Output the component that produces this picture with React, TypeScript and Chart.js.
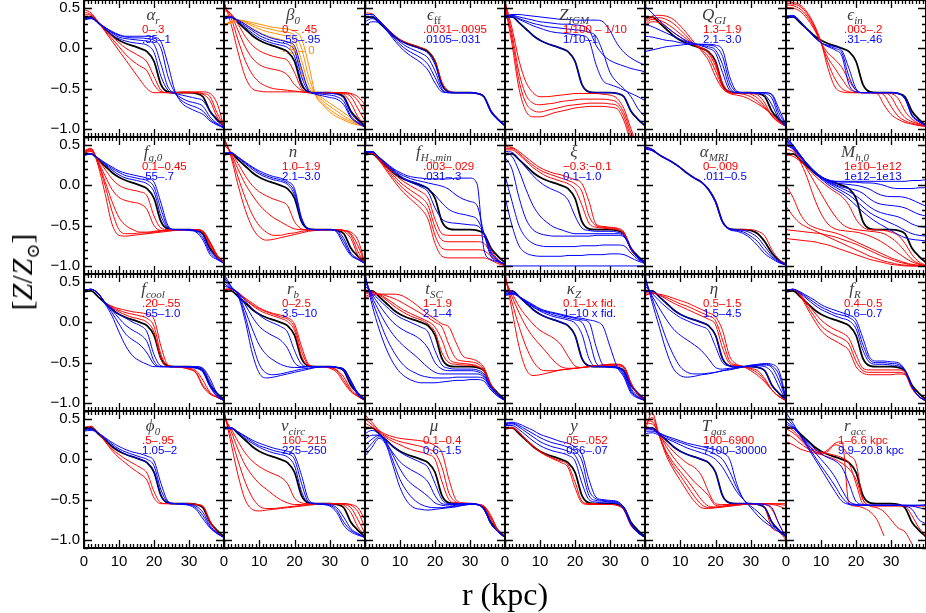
import React, { useEffect, useRef } from "react";
import { Chart, registerables } from "chart.js";
Chart.register(...registerables);

// ---------- shared x grid (kpc) ----------
const R_KPC = [0, 2, 4, 6, 8, 10, 12, 14, 16, 18, 20, 22, 24, 26, 28, 30, 32, 34, 36, 38, 40];
const X_TICKS = [0, 10, 20, 30];
const Y_TICKS = [-1, -0.5, 0, 0.5];
const Y_MIN = -1.1;
const Y_MAX = 0.6;

// fiducial model
const FID = [0.38,0.39,0.32,0.24,0.16,0.10,0.06,0.03,0.00,-0.04,-0.16,-0.45,-0.54,-0.55,-0.55,-0.55,-0.56,-0.60,-0.78,-0.88,-0.96];

// ---------- panel 1: alpha_r ----------
const AR_RED = [
  [0.48,0.44,0.33,0.21,0.09,-0.03,-0.15,-0.27,-0.39,-0.50,-0.55,-0.55,-0.55,-0.55,-0.54,-0.54,-0.54,-0.54,-0.56,-0.68,-0.98],
  [0.45,0.42,0.33,0.22,0.12,0.02,-0.08,-0.16,-0.22,-0.28,-0.45,-0.54,-0.55,-0.55,-0.55,-0.55,-0.55,-0.56,-0.60,-0.80,-0.97],
  [0.42,0.41,0.33,0.24,0.15,0.07,0.00,-0.05,-0.10,-0.17,-0.35,-0.52,-0.55,-0.55,-0.55,-0.55,-0.55,-0.57,-0.65,-0.85,-0.97],
];
const AR_BLUE = [
  [0.37,0.38,0.32,0.24,0.17,0.12,0.09,0.07,0.06,0.04,-0.05,-0.35,-0.52,-0.56,-0.58,-0.60,-0.62,-0.65,-0.78,-0.90,-0.97],
  [0.36,0.38,0.32,0.25,0.19,0.14,0.12,0.11,0.10,0.09,0.05,-0.20,-0.48,-0.56,-0.62,-0.66,-0.68,-0.72,-0.85,-0.93,-0.98],
  [0.36,0.37,0.32,0.26,0.20,0.16,0.14,0.13,0.13,0.12,0.10,0.00,-0.35,-0.55,-0.65,-0.70,-0.73,-0.78,-0.88,-0.94,-0.98],
  [0.35,0.37,0.32,0.26,0.21,0.17,0.15,0.15,0.15,0.15,0.14,0.08,-0.20,-0.53,-0.68,-0.74,-0.78,-0.82,-0.90,-0.95,-0.99],
];

// ---------- panel 2: beta_0 ----------
const B0_RED = [
  [0.58,0.30,-0.05,-0.35,-0.50,-0.53,-0.54,-0.54,-0.54,-0.54,-0.54,-0.54,-0.55,-0.55,-0.55,-0.55,-0.55,-0.55,-0.56,-0.60,-0.70],
  [0.55,0.38,0.10,-0.15,-0.32,-0.42,-0.47,-0.50,-0.51,-0.52,-0.53,-0.54,-0.55,-0.55,-0.55,-0.55,-0.55,-0.55,-0.57,-0.65,-0.80],
  [0.50,0.42,0.22,0.02,-0.12,-0.20,-0.24,-0.26,-0.28,-0.33,-0.45,-0.52,-0.55,-0.55,-0.55,-0.55,-0.55,-0.56,-0.60,-0.75,-0.90],
  [0.47,0.43,0.30,0.15,0.04,-0.03,-0.07,-0.10,-0.12,-0.15,-0.30,-0.50,-0.55,-0.55,-0.55,-0.55,-0.55,-0.57,-0.68,-0.85,-0.95],
];
const B0_BLUE = [
  [0.38,0.39,0.33,0.26,0.19,0.13,0.09,0.06,0.04,0.01,-0.10,-0.42,-0.54,-0.55,-0.55,-0.56,-0.57,-0.62,-0.80,-0.90,-0.97],
  [0.37,0.39,0.34,0.28,0.22,0.16,0.12,0.09,0.07,0.05,-0.03,-0.35,-0.53,-0.56,-0.57,-0.58,-0.60,-0.66,-0.84,-0.92,-0.97],
  [0.36,0.38,0.35,0.30,0.24,0.19,0.15,0.12,0.10,0.08,0.03,-0.25,-0.52,-0.57,-0.59,-0.61,-0.63,-0.70,-0.86,-0.93,-0.98],
];
const B0_ORANGE = [
  [0.30,0.33,0.34,0.30,0.25,0.20,0.16,0.13,0.11,0.08,0.00,-0.30,-0.50,-0.56,-0.62,-0.68,-0.74,-0.80,-0.86,-0.92,-0.97],
  [0.29,0.33,0.35,0.32,0.28,0.24,0.21,0.19,0.17,0.15,0.10,-0.15,-0.45,-0.57,-0.65,-0.72,-0.78,-0.84,-0.89,-0.93,-0.97],
  [0.28,0.32,0.35,0.33,0.30,0.27,0.25,0.23,0.21,0.20,0.16,0.00,-0.35,-0.58,-0.68,-0.76,-0.82,-0.87,-0.91,-0.94,-0.97],
  [0.28,0.32,0.35,0.34,0.32,0.30,0.28,0.26,0.25,0.24,0.21,0.12,-0.20,-0.58,-0.70,-0.79,-0.85,-0.89,-0.93,-0.95,-0.97],
];

// ---------- panel 3: eps_ff ----------
const EFF_RED = [
  [0.44,0.43,0.35,0.26,0.18,0.11,0.07,0.04,0.01,-0.03,-0.15,-0.42,-0.53,-0.55,-0.55,-0.55,-0.56,-0.60,-0.78,-0.88,-0.96],
];
const EFF_BLUE = [
  [0.42,0.42,0.35,0.26,0.17,0.10,0.05,0.02,-0.01,-0.06,-0.20,-0.46,-0.54,-0.55,-0.55,-0.55,-0.56,-0.60,-0.78,-0.88,-0.96],
  [0.38,0.40,0.34,0.25,0.16,0.08,0.02,-0.02,-0.06,-0.12,-0.28,-0.50,-0.55,-0.55,-0.55,-0.55,-0.56,-0.60,-0.78,-0.88,-0.96],
  [0.33,0.37,0.33,0.24,0.14,0.05,-0.02,-0.07,-0.12,-0.20,-0.36,-0.52,-0.55,-0.55,-0.55,-0.55,-0.56,-0.60,-0.79,-0.89,-0.96],
  [0.28,0.33,0.32,0.23,0.12,0.02,-0.06,-0.12,-0.18,-0.27,-0.43,-0.54,-0.55,-0.55,-0.55,-0.55,-0.56,-0.60,-0.79,-0.89,-0.96],
];

// ---------- panel 4: Z_IGM ----------
const ZIGM_RED = [
  [0.58,0.25,-0.15,-0.42,-0.55,-0.60,-0.60,-0.59,-0.58,-0.57,-0.56,-0.56,-0.56,-0.56,-0.57,-0.58,-0.62,-0.75,-1.00,-1.20,-1.20],
  [0.56,0.18,-0.30,-0.58,-0.68,-0.70,-0.69,-0.68,-0.66,-0.65,-0.64,-0.63,-0.63,-0.63,-0.63,-0.64,-0.67,-0.80,-1.05,-1.20,-1.20],
  [0.55,0.12,-0.40,-0.68,-0.77,-0.79,-0.77,-0.75,-0.73,-0.71,-0.70,-0.69,-0.68,-0.68,-0.68,-0.69,-0.71,-0.85,-1.10,-1.20,-1.20],
  [0.53,0.05,-0.50,-0.78,-0.85,-0.85,-0.83,-0.80,-0.78,-0.76,-0.74,-0.73,-0.72,-0.72,-0.72,-0.73,-0.75,-0.90,-1.15,-1.20,-1.20],
];
const ZIGM_BLUE = [
  [0.40,0.42,0.42,0.41,0.40,0.39,0.38,0.37,0.36,0.36,0.35,0.35,0.35,0.35,0.33,0.22,0.06,-0.05,-0.12,-0.17,-0.21],
  [0.40,0.41,0.39,0.37,0.35,0.33,0.32,0.31,0.30,0.30,0.29,0.28,0.23,0.04,-0.08,-0.15,-0.19,-0.22,-0.25,-0.27,-0.29],
  [0.39,0.41,0.37,0.34,0.31,0.29,0.27,0.26,0.25,0.24,0.23,0.22,0.20,0.15,-0.05,-0.30,-0.42,-0.50,-0.60,-0.75,-0.85],
  [0.39,0.40,0.36,0.32,0.28,0.25,0.22,0.20,0.19,0.18,0.17,0.16,0.10,-0.20,-0.40,-0.45,-0.48,-0.52,-0.56,-0.60,-0.65],
];

// ---------- panel 5: Q_GI ----------
const QGI_RED = [
  [0.35,0.40,0.41,0.40,0.36,0.28,0.18,0.07,-0.03,-0.15,-0.35,-0.50,-0.56,-0.58,-0.60,-0.64,-0.69,-0.75,-0.82,-0.90,-0.97],
  [0.33,0.38,0.38,0.36,0.31,0.23,0.14,0.05,-0.02,-0.10,-0.28,-0.48,-0.55,-0.56,-0.57,-0.60,-0.66,-0.74,-0.82,-0.90,-0.97],
  [0.30,0.36,0.35,0.31,0.25,0.18,0.11,0.05,0.00,-0.06,-0.22,-0.45,-0.54,-0.55,-0.55,-0.57,-0.62,-0.72,-0.84,-0.91,-0.97],
  [0.28,0.33,0.32,0.27,0.20,0.14,0.08,0.04,0.01,-0.04,-0.18,-0.43,-0.54,-0.55,-0.55,-0.56,-0.58,-0.68,-0.84,-0.92,-0.97],
];
const QGI_BLUE = [
  [0.52,0.44,0.35,0.27,0.20,0.14,0.09,0.06,0.03,0.00,-0.06,-0.30,-0.52,-0.55,-0.55,-0.55,-0.56,-0.58,-0.70,-0.88,-0.97],
  [0.30,0.27,0.23,0.19,0.15,0.11,0.08,0.06,0.04,0.02,-0.02,-0.20,-0.48,-0.55,-0.55,-0.55,-0.55,-0.56,-0.62,-0.85,-0.97],
  [0.15,0.14,0.12,0.10,0.09,0.07,0.06,0.05,0.05,0.04,0.02,-0.10,-0.42,-0.54,-0.55,-0.55,-0.55,-0.55,-0.58,-0.80,-0.96],
  [-0.04,-0.02,0.00,0.02,0.03,0.04,0.05,0.05,0.05,0.05,0.04,-0.02,-0.35,-0.53,-0.55,-0.55,-0.55,-0.55,-0.57,-0.75,-0.95],
];

// ---------- panel 6: eps_in ----------
const EIN_RED = [
  [0.58,0.57,0.54,0.45,0.30,0.08,-0.25,-0.48,-0.54,-0.55,-0.55,-0.55,-0.55,-0.56,-0.70,-0.82,-0.88,-0.92,-0.94,-0.96,-0.97],
  [0.56,0.55,0.52,0.43,0.28,0.07,-0.18,-0.38,-0.50,-0.54,-0.55,-0.55,-0.55,-0.55,-0.58,-0.72,-0.84,-0.90,-0.93,-0.95,-0.97],
  [0.54,0.53,0.49,0.40,0.26,0.07,-0.12,-0.25,-0.38,-0.50,-0.54,-0.55,-0.55,-0.55,-0.55,-0.60,-0.75,-0.86,-0.91,-0.94,-0.97],
  [0.51,0.50,0.46,0.37,0.24,0.07,-0.06,-0.14,-0.24,-0.40,-0.52,-0.55,-0.55,-0.55,-0.55,-0.56,-0.62,-0.78,-0.88,-0.93,-0.97],
];
const EIN_BLUE = [
  [0.40,0.41,0.34,0.24,0.14,0.07,0.02,-0.02,-0.10,-0.45,-0.54,-0.55,-0.55,-0.55,-0.55,-0.55,-0.56,-0.62,-0.82,-0.90,-0.96],
  [0.38,0.40,0.33,0.24,0.15,0.07,0.03,0.00,-0.06,-0.35,-0.52,-0.55,-0.55,-0.55,-0.55,-0.55,-0.56,-0.62,-0.83,-0.91,-0.96],
  [0.37,0.39,0.33,0.24,0.15,0.07,0.04,0.02,-0.03,-0.25,-0.50,-0.55,-0.55,-0.55,-0.55,-0.55,-0.56,-0.63,-0.84,-0.91,-0.96],
];

// ---------- panel 7: f_g,0 ----------
const FG0_RED = [
  [0.43,0.46,0.25,-0.10,-0.48,-0.62,-0.63,-0.62,-0.61,-0.60,-0.59,-0.58,-0.57,-0.56,-0.55,-0.55,-0.55,-0.57,-0.70,-0.86,-0.97],
  [0.42,0.45,0.28,0.00,-0.32,-0.55,-0.60,-0.60,-0.59,-0.59,-0.58,-0.57,-0.56,-0.55,-0.55,-0.55,-0.55,-0.57,-0.71,-0.87,-0.97],
  [0.42,0.44,0.29,0.05,-0.20,-0.40,-0.50,-0.55,-0.58,-0.58,-0.57,-0.56,-0.56,-0.55,-0.55,-0.55,-0.55,-0.57,-0.71,-0.87,-0.97],
  [0.41,0.43,0.30,0.12,-0.05,-0.15,-0.19,-0.21,-0.23,-0.30,-0.50,-0.56,-0.56,-0.55,-0.55,-0.55,-0.55,-0.58,-0.73,-0.88,-0.97],
  [0.40,0.42,0.32,0.20,0.08,0.00,-0.04,-0.06,-0.08,-0.13,-0.38,-0.53,-0.55,-0.55,-0.55,-0.55,-0.55,-0.58,-0.75,-0.88,-0.97],
];
const FG0_BLUE = [
  [0.38,0.39,0.33,0.26,0.19,0.13,0.09,0.07,0.05,0.02,-0.08,-0.38,-0.53,-0.55,-0.55,-0.55,-0.56,-0.62,-0.80,-0.90,-0.97],
  [0.38,0.39,0.34,0.27,0.21,0.16,0.12,0.10,0.08,0.06,-0.02,-0.30,-0.52,-0.55,-0.55,-0.55,-0.57,-0.65,-0.83,-0.91,-0.97],
  [0.37,0.39,0.34,0.28,0.23,0.18,0.15,0.13,0.11,0.09,0.04,-0.22,-0.50,-0.55,-0.55,-0.56,-0.58,-0.68,-0.86,-0.92,-0.97],
];

// ---------- panel 8: n ----------
const N_RED = [
  [0.60,0.35,0.00,-0.30,-0.52,-0.64,-0.68,-0.67,-0.65,-0.63,-0.61,-0.59,-0.57,-0.56,-0.55,-0.55,-0.55,-0.56,-0.58,-0.68,-0.97],
  [0.58,0.38,0.10,-0.15,-0.36,-0.50,-0.58,-0.62,-0.62,-0.60,-0.59,-0.57,-0.56,-0.55,-0.55,-0.55,-0.55,-0.56,-0.60,-0.75,-0.97],
  [0.55,0.40,0.20,0.02,-0.12,-0.24,-0.33,-0.40,-0.45,-0.50,-0.54,-0.55,-0.55,-0.55,-0.55,-0.55,-0.55,-0.56,-0.62,-0.82,-0.97],
  [0.50,0.41,0.27,0.12,0.00,-0.08,-0.13,-0.17,-0.20,-0.25,-0.45,-0.54,-0.55,-0.55,-0.55,-0.55,-0.55,-0.57,-0.66,-0.87,-0.97],
];
const N_BLUE = [
  [0.39,0.40,0.34,0.27,0.20,0.14,0.10,0.07,0.05,0.01,-0.12,-0.44,-0.54,-0.55,-0.55,-0.55,-0.56,-0.66,-0.84,-0.91,-0.97],
  [0.39,0.40,0.35,0.28,0.22,0.16,0.12,0.09,0.07,0.03,-0.08,-0.42,-0.54,-0.55,-0.55,-0.55,-0.57,-0.70,-0.86,-0.92,-0.97],
  [0.40,0.41,0.35,0.29,0.23,0.18,0.14,0.11,0.09,0.05,-0.04,-0.40,-0.54,-0.55,-0.55,-0.55,-0.58,-0.74,-0.87,-0.92,-0.97],
];

// ---------- panel 9: f_H2,min ----------
const FH2_RED = [
  [0.41,0.41,0.34,0.25,0.16,0.08,0.02,-0.03,-0.08,-0.16,-0.42,-0.60,-0.62,-0.62,-0.62,-0.62,-0.62,-0.64,-0.80,-0.92,-0.99],
  [0.40,0.41,0.33,0.23,0.13,0.04,-0.03,-0.09,-0.15,-0.25,-0.52,-0.68,-0.70,-0.70,-0.70,-0.70,-0.70,-0.72,-0.84,-0.94,-0.99],
  [0.40,0.40,0.32,0.21,0.10,0.00,-0.08,-0.15,-0.22,-0.33,-0.62,-0.78,-0.80,-0.80,-0.80,-0.80,-0.80,-0.81,-0.88,-0.95,-0.99],
  [0.39,0.40,0.31,0.19,0.07,-0.04,-0.13,-0.21,-0.29,-0.42,-0.72,-0.88,-0.90,-0.90,-0.90,-0.90,-0.90,-0.90,-0.93,-0.97,-1.00],
];
const FH2_BLUE = [
  [0.42,0.42,0.35,0.28,0.21,0.16,0.12,0.10,0.09,0.08,0.08,0.08,0.08,0.09,0.09,0.09,0.02,-0.80,-0.92,-0.95,-0.98],
  [0.42,0.42,0.35,0.27,0.20,0.14,0.10,0.07,0.05,0.03,0.01,-0.01,-0.05,-0.12,-0.17,-0.20,-0.25,-0.60,-0.88,-0.94,-0.98],
  [0.41,0.42,0.35,0.27,0.19,0.12,0.07,0.04,0.01,-0.04,-0.12,-0.22,-0.30,-0.34,-0.36,-0.38,-0.42,-0.60,-0.85,-0.93,-0.98],
  [0.41,0.41,0.34,0.26,0.18,0.11,0.06,0.02,-0.02,-0.08,-0.28,-0.42,-0.46,-0.47,-0.48,-0.49,-0.50,-0.60,-0.82,-0.93,-0.98],
];

// ---------- panel 10: xi ----------
const XI_RED = [
  [0.48,0.47,0.42,0.35,0.28,0.22,0.18,0.15,0.13,0.10,0.07,0.02,-0.20,-0.48,-0.51,-0.52,-0.53,-0.58,-0.80,-0.90,-0.96],
  [0.46,0.46,0.40,0.32,0.25,0.19,0.15,0.12,0.09,0.06,0.02,-0.08,-0.38,-0.50,-0.52,-0.53,-0.54,-0.60,-0.80,-0.90,-0.96],
  [0.44,0.44,0.38,0.30,0.22,0.16,0.11,0.08,0.05,0.02,-0.05,-0.25,-0.47,-0.52,-0.53,-0.54,-0.55,-0.60,-0.80,-0.90,-0.96],
];
const XI_BLUE = [
  [0.42,0.41,0.32,0.22,0.12,0.04,-0.02,-0.06,-0.10,-0.18,-0.38,-0.53,-0.56,-0.57,-0.57,-0.57,-0.58,-0.62,-0.78,-0.89,-0.96],
  [0.40,0.36,0.18,-0.05,-0.25,-0.38,-0.46,-0.52,-0.55,-0.58,-0.60,-0.60,-0.60,-0.60,-0.60,-0.60,-0.60,-0.63,-0.78,-0.90,-0.96],
  [0.35,0.20,-0.15,-0.42,-0.55,-0.60,-0.62,-0.63,-0.63,-0.63,-0.63,-0.63,-0.63,-0.62,-0.62,-0.62,-0.62,-0.64,-0.79,-0.90,-0.96],
  [0.12,-0.20,-0.50,-0.65,-0.72,-0.75,-0.76,-0.76,-0.76,-0.76,-0.76,-0.75,-0.75,-0.75,-0.74,-0.74,-0.74,-0.75,-0.84,-0.92,-0.97],
  [-0.15,-0.50,-0.75,-0.84,-0.87,-0.88,-0.88,-0.88,-0.88,-0.87,-0.87,-0.87,-0.86,-0.86,-0.86,-0.85,-0.85,-0.86,-0.90,-0.94,-0.97],
  [-1.00,-1.00,-1.00,-1.00,-1.00,-1.00,-1.00,-1.00,-1.00,-1.00,-1.00,-1.00,-1.00,-1.00,-1.00,-1.00,-1.00,-1.00,-1.00,-1.00,-1.00],
];

// ---------- panel 11: alpha_MRI ----------
const AMRI_MAIN = [0.47,0.44,0.38,0.33,0.28,0.22,0.15,0.09,0.04,-0.05,-0.20,-0.45,-0.54,-0.55,-0.55,-0.56,-0.60,-0.70,-0.84,-0.93,-0.98];
const AMRI_RED = [
  [0.47,0.44,0.38,0.33,0.28,0.22,0.15,0.09,0.04,-0.05,-0.20,-0.45,-0.54,-0.55,-0.55,-0.55,-0.57,-0.63,-0.80,-0.92,-0.98],
];
const AMRI_BLUE = [
  [0.48,0.45,0.38,0.33,0.28,0.22,0.15,0.09,0.04,-0.05,-0.20,-0.45,-0.54,-0.55,-0.56,-0.59,-0.65,-0.76,-0.87,-0.94,-0.98],
  [0.46,0.44,0.38,0.33,0.28,0.22,0.15,0.09,0.04,-0.05,-0.21,-0.46,-0.54,-0.56,-0.58,-0.63,-0.70,-0.81,-0.89,-0.95,-0.99],
  [0.45,0.43,0.38,0.33,0.28,0.22,0.15,0.09,0.04,-0.05,-0.21,-0.46,-0.55,-0.57,-0.60,-0.66,-0.75,-0.85,-0.91,-0.96,-0.99],
];

// ---------- panel 12: M_h,0 ----------
const MH0_RED = [
  [0.50,0.45,0.30,0.10,-0.15,-0.35,-0.48,-0.54,-0.56,-0.57,-0.58,-0.60,-0.63,-0.67,-0.72,-0.78,-0.84,-0.90,-0.95,-0.98,-1.00],
  [0.45,0.42,0.33,0.20,0.05,-0.10,-0.25,-0.38,-0.48,-0.53,-0.55,-0.56,-0.57,-0.58,-0.60,-0.65,-0.72,-0.82,-0.92,-0.97,-1.00],
  [0.38,0.36,0.30,0.22,0.13,0.05,-0.02,-0.08,-0.14,-0.25,-0.42,-0.52,-0.55,-0.55,-0.56,-0.58,-0.62,-0.72,-0.86,-0.95,-0.99],
  [0.00,-0.15,-0.35,-0.47,-0.52,-0.55,-0.57,-0.59,-0.62,-0.66,-0.70,-0.74,-0.78,-0.82,-0.86,-0.90,-0.93,-0.96,-0.98,-0.99,-1.00],
  [-0.26,-0.38,-0.47,-0.52,-0.56,-0.60,-0.64,-0.68,-0.72,-0.76,-0.80,-0.84,-0.88,-0.91,-0.94,-0.96,-0.98,-0.99,-1.00,-1.00,-1.00],
  [-0.55,-0.56,-0.57,-0.58,-0.59,-0.60,-0.62,-0.64,-0.67,-0.70,-0.73,-0.77,-0.81,-0.85,-0.89,-0.92,-0.95,-0.97,-0.99,-1.00,-1.00],
  [-0.66,-0.67,-0.68,-0.69,-0.70,-0.72,-0.74,-0.77,-0.80,-0.83,-0.86,-0.89,-0.92,-0.94,-0.96,-0.98,-0.99,-1.00,-1.00,-1.00,-1.00],
];
const MH0_BLUE = [
  [0.60,0.50,0.38,0.27,0.17,0.10,0.06,0.05,0.05,0.05,0.05,0.05,0.05,0.05,0.05,0.05,0.05,0.05,0.06,0.06,0.07],
  [0.60,0.50,0.38,0.27,0.18,0.11,0.07,0.05,0.04,0.04,0.04,0.03,0.03,0.02,0.00,-0.03,-0.04,-0.04,-0.04,-0.03,-0.03],
  [0.58,0.49,0.38,0.27,0.18,0.11,0.06,0.03,0.02,0.01,0.00,-0.02,-0.05,-0.10,-0.13,-0.14,-0.14,-0.15,-0.18,-0.22,-0.26],
  [0.56,0.48,0.37,0.27,0.18,0.11,0.05,0.01,-0.02,-0.04,-0.06,-0.10,-0.17,-0.22,-0.24,-0.25,-0.26,-0.28,-0.32,-0.36,-0.38],
  [0.54,0.47,0.37,0.27,0.18,0.10,0.04,0.00,-0.04,-0.08,-0.13,-0.20,-0.27,-0.32,-0.35,-0.37,-0.39,-0.43,-0.48,-0.51,-0.52],
  [0.52,0.46,0.36,0.26,0.17,0.09,0.03,-0.02,-0.07,-0.12,-0.19,-0.27,-0.34,-0.39,-0.43,-0.47,-0.51,-0.56,-0.60,-0.62,-0.63],
  [0.50,0.45,0.35,0.25,0.16,0.08,0.01,-0.05,-0.10,-0.17,-0.25,-0.33,-0.40,-0.46,-0.51,-0.56,-0.61,-0.65,-0.67,-0.68,-0.69],
];

// ---------- panel 13: f_cool ----------
const FCOOL_RED = [
  [0.40,0.41,0.36,0.25,0.20,0.17,0.15,0.13,0.12,0.10,0.04,-0.30,-0.53,-0.55,-0.56,-0.58,-0.62,-0.78,-0.88,-0.93,-0.97],
  [0.40,0.41,0.36,0.25,0.19,0.15,0.12,0.10,0.08,0.05,-0.05,-0.40,-0.54,-0.55,-0.56,-0.58,-0.63,-0.80,-0.89,-0.93,-0.97],
  [0.40,0.41,0.36,0.25,0.18,0.13,0.09,0.06,0.04,0.00,-0.12,-0.46,-0.55,-0.55,-0.56,-0.57,-0.60,-0.72,-0.87,-0.93,-0.97],
];
const FCOOL_BLUE = [
  [0.40,0.41,0.36,0.25,0.17,0.10,0.05,0.00,-0.04,-0.12,-0.40,-0.54,-0.55,-0.55,-0.55,-0.56,-0.57,-0.62,-0.80,-0.92,-0.97],
  [0.40,0.41,0.36,0.25,0.15,0.05,-0.04,-0.10,-0.15,-0.24,-0.48,-0.55,-0.55,-0.55,-0.55,-0.55,-0.56,-0.60,-0.78,-0.92,-0.97],
  [0.40,0.41,0.36,0.24,0.12,-0.02,-0.15,-0.22,-0.28,-0.38,-0.52,-0.55,-0.55,-0.55,-0.55,-0.55,-0.55,-0.58,-0.74,-0.90,-0.97],
  [0.40,0.41,0.36,0.23,0.08,-0.12,-0.30,-0.42,-0.48,-0.52,-0.55,-0.55,-0.55,-0.55,-0.55,-0.55,-0.55,-0.57,-0.70,-0.88,-0.97],
];

// ---------- panel 14: r_b ----------
const RB_RED = [
  [0.41,0.42,0.37,0.30,0.24,0.18,0.14,0.11,0.09,0.06,-0.02,-0.30,-0.52,-0.55,-0.55,-0.57,-0.62,-0.75,-0.86,-0.92,-0.97],
  [0.40,0.41,0.36,0.29,0.22,0.17,0.13,0.10,0.07,0.04,-0.06,-0.36,-0.53,-0.55,-0.55,-0.56,-0.60,-0.72,-0.85,-0.92,-0.97],
  [0.40,0.41,0.36,0.28,0.21,0.15,0.11,0.08,0.05,0.01,-0.10,-0.42,-0.54,-0.55,-0.55,-0.56,-0.59,-0.68,-0.83,-0.91,-0.97],
];
const RB_BLUE = [
  [0.45,0.42,0.37,0.27,0.17,0.09,0.03,-0.01,-0.05,-0.12,-0.35,-0.52,-0.55,-0.55,-0.55,-0.55,-0.56,-0.58,-0.72,-0.88,-0.97],
  [0.48,0.42,0.36,0.22,0.07,-0.05,-0.12,-0.17,-0.22,-0.32,-0.50,-0.55,-0.55,-0.55,-0.55,-0.55,-0.56,-0.58,-0.73,-0.88,-0.97],
  [0.52,0.43,0.35,0.15,-0.08,-0.28,-0.40,-0.47,-0.52,-0.55,-0.56,-0.56,-0.55,-0.55,-0.55,-0.55,-0.56,-0.58,-0.74,-0.89,-0.97],
  [0.56,0.44,0.34,0.08,-0.25,-0.52,-0.63,-0.65,-0.64,-0.62,-0.60,-0.58,-0.57,-0.56,-0.55,-0.55,-0.56,-0.59,-0.75,-0.90,-0.97],
  [0.60,0.45,0.33,0.02,-0.38,-0.63,-0.69,-0.68,-0.66,-0.64,-0.62,-0.60,-0.58,-0.56,-0.55,-0.55,-0.56,-0.60,-0.76,-0.90,-0.97],
];

// ---------- panel 15: t_SC ----------
const TSC_RED = [
  [0.30,0.33,0.35,0.35,0.35,0.34,0.30,0.24,0.17,0.10,0.04,-0.02,-0.06,-0.25,-0.42,-0.45,-0.48,-0.56,-0.78,-0.90,-0.97],
  [0.32,0.35,0.35,0.33,0.30,0.26,0.21,0.16,0.11,0.06,0.00,-0.06,-0.28,-0.45,-0.48,-0.49,-0.51,-0.58,-0.78,-0.90,-0.97],
  [0.35,0.37,0.35,0.30,0.24,0.18,0.13,0.09,0.05,0.01,-0.06,-0.22,-0.45,-0.50,-0.51,-0.52,-0.54,-0.60,-0.78,-0.90,-0.97],
  [0.37,0.38,0.34,0.28,0.21,0.15,0.10,0.06,0.03,-0.02,-0.12,-0.38,-0.50,-0.52,-0.53,-0.53,-0.55,-0.60,-0.78,-0.90,-0.97],
];
const TSC_BLUE = [
  [0.45,0.37,0.28,0.20,0.12,0.06,0.02,-0.02,-0.06,-0.12,-0.35,-0.53,-0.57,-0.58,-0.58,-0.58,-0.59,-0.64,-0.80,-0.90,-0.97],
  [0.50,0.35,0.22,0.10,0.00,-0.07,-0.12,-0.16,-0.22,-0.32,-0.50,-0.58,-0.60,-0.60,-0.60,-0.60,-0.61,-0.66,-0.80,-0.90,-0.97],
  [0.55,0.32,0.14,-0.02,-0.15,-0.25,-0.33,-0.40,-0.48,-0.56,-0.62,-0.64,-0.64,-0.64,-0.64,-0.64,-0.64,-0.68,-0.81,-0.90,-0.97],
  [0.58,0.28,0.04,-0.18,-0.35,-0.48,-0.57,-0.62,-0.66,-0.68,-0.69,-0.69,-0.69,-0.68,-0.68,-0.68,-0.68,-0.70,-0.82,-0.91,-0.97],
  [0.60,0.22,-0.08,-0.32,-0.50,-0.62,-0.69,-0.73,-0.75,-0.75,-0.75,-0.74,-0.73,-0.72,-0.72,-0.71,-0.71,-0.73,-0.84,-0.92,-0.97],
];

// ---------- panel 16: kappa_Z ----------
const KZ_RED = [
  [0.60,0.15,-0.30,-0.58,-0.66,-0.65,-0.63,-0.61,-0.59,-0.58,-0.57,-0.56,-0.55,-0.54,-0.53,-0.52,-0.52,-0.55,-0.75,-0.90,-0.97],
  [0.58,0.25,-0.05,-0.30,-0.48,-0.58,-0.60,-0.60,-0.59,-0.58,-0.57,-0.56,-0.55,-0.54,-0.53,-0.52,-0.52,-0.55,-0.75,-0.90,-0.97],
  [0.55,0.32,0.12,-0.05,-0.18,-0.28,-0.38,-0.48,-0.55,-0.57,-0.57,-0.56,-0.55,-0.54,-0.53,-0.53,-0.53,-0.56,-0.76,-0.90,-0.97],
  [0.50,0.36,0.20,0.08,-0.02,-0.10,-0.15,-0.20,-0.28,-0.42,-0.54,-0.56,-0.55,-0.54,-0.54,-0.53,-0.54,-0.57,-0.77,-0.90,-0.97],
];
const KZ_BLUE = [
  [0.36,0.37,0.32,0.25,0.19,0.14,0.10,0.07,0.05,0.03,-0.01,-0.15,-0.45,-0.55,-0.55,-0.55,-0.56,-0.62,-0.82,-0.92,-0.97],
  [0.35,0.36,0.32,0.26,0.20,0.15,0.12,0.09,0.07,0.05,0.03,0.00,-0.20,-0.50,-0.55,-0.55,-0.56,-0.64,-0.84,-0.93,-0.97],
  [0.34,0.36,0.32,0.26,0.21,0.16,0.13,0.11,0.09,0.07,0.05,0.03,0.00,-0.30,-0.53,-0.56,-0.57,-0.66,-0.86,-0.93,-0.97],
  [0.33,0.35,0.32,0.27,0.22,0.17,0.14,0.12,0.10,0.08,0.06,0.05,0.03,0.01,-0.05,-0.30,-0.55,-0.68,-0.88,-0.94,-0.97],
];

// ---------- panel 17: eta ----------
const ETA_RED = [
  [0.33,0.36,0.35,0.33,0.30,0.27,0.24,0.20,0.16,0.12,0.07,-0.10,-0.42,-0.52,-0.55,-0.60,-0.66,-0.74,-0.84,-0.92,-0.97],
  [0.34,0.36,0.34,0.31,0.27,0.23,0.20,0.16,0.12,0.08,0.02,-0.22,-0.48,-0.53,-0.55,-0.58,-0.63,-0.72,-0.84,-0.92,-0.97],
  [0.36,0.37,0.34,0.29,0.24,0.20,0.16,0.12,0.08,0.04,-0.03,-0.32,-0.51,-0.54,-0.55,-0.57,-0.60,-0.70,-0.84,-0.92,-0.97],
];
const ETA_BLUE = [
  [0.45,0.36,0.27,0.19,0.12,0.06,0.02,-0.02,-0.05,-0.10,-0.30,-0.50,-0.54,-0.55,-0.55,-0.54,-0.54,-0.55,-0.62,-0.80,-0.97],
  [0.50,0.33,0.18,0.04,-0.08,-0.16,-0.22,-0.28,-0.35,-0.45,-0.56,-0.58,-0.57,-0.56,-0.55,-0.54,-0.53,-0.53,-0.56,-0.72,-0.96],
  [0.55,0.30,0.05,-0.20,-0.40,-0.55,-0.62,-0.64,-0.64,-0.63,-0.62,-0.60,-0.58,-0.57,-0.55,-0.54,-0.53,-0.52,-0.54,-0.65,-0.95],
  [0.58,0.25,-0.05,-0.35,-0.57,-0.66,-0.68,-0.67,-0.65,-0.64,-0.62,-0.60,-0.59,-0.57,-0.55,-0.53,-0.52,-0.51,-0.52,-0.60,-0.94],
];

// ---------- panel 18: f_R ----------
const FR_RED = [
  [0.40,0.41,0.33,0.18,0.03,-0.10,-0.18,-0.23,-0.28,-0.35,-0.55,-0.63,-0.65,-0.65,-0.65,-0.65,-0.64,-0.65,-0.82,-0.92,-0.98],
  [0.40,0.41,0.34,0.21,0.08,-0.04,-0.11,-0.16,-0.20,-0.27,-0.48,-0.60,-0.62,-0.62,-0.62,-0.62,-0.62,-0.64,-0.82,-0.92,-0.98],
  [0.40,0.41,0.35,0.24,0.13,0.03,-0.04,-0.09,-0.13,-0.20,-0.40,-0.57,-0.59,-0.59,-0.59,-0.59,-0.59,-0.62,-0.80,-0.92,-0.98],
];
const FR_BLUE = [
  [0.39,0.41,0.36,0.29,0.22,0.16,0.12,0.08,0.05,0.02,-0.08,-0.35,-0.50,-0.52,-0.52,-0.53,-0.54,-0.60,-0.80,-0.92,-0.97],
  [0.39,0.41,0.37,0.31,0.25,0.19,0.15,0.11,0.09,0.06,-0.02,-0.28,-0.47,-0.50,-0.50,-0.51,-0.52,-0.60,-0.80,-0.92,-0.97],
  [0.39,0.41,0.38,0.33,0.28,0.22,0.18,0.15,0.12,0.09,0.03,-0.20,-0.44,-0.48,-0.48,-0.49,-0.50,-0.59,-0.80,-0.92,-0.97],
];

// ---------- panel 19: phi_0 ----------
const PHI0_RED = [
  [0.39,0.41,0.33,0.22,0.11,0.02,-0.05,-0.12,-0.18,-0.26,-0.48,-0.55,-0.55,-0.55,-0.55,-0.55,-0.56,-0.58,-0.76,-0.90,-0.97],
  [0.39,0.41,0.33,0.23,0.13,0.06,0.00,-0.05,-0.10,-0.17,-0.40,-0.54,-0.55,-0.55,-0.55,-0.55,-0.56,-0.59,-0.78,-0.90,-0.97],
];
const PHI0_BLUE = [
  [0.37,0.38,0.33,0.25,0.17,0.11,0.06,0.03,0.00,-0.04,-0.15,-0.45,-0.54,-0.55,-0.55,-0.56,-0.58,-0.66,-0.82,-0.91,-0.97],
  [0.36,0.37,0.33,0.26,0.19,0.13,0.09,0.06,0.03,0.00,-0.08,-0.38,-0.53,-0.55,-0.55,-0.56,-0.60,-0.70,-0.84,-0.92,-0.97],
  [0.35,0.36,0.33,0.27,0.21,0.16,0.12,0.09,0.07,0.04,-0.02,-0.30,-0.52,-0.55,-0.56,-0.57,-0.62,-0.74,-0.85,-0.92,-0.97],
];

// ---------- panel 20: v_circ ----------
const VC_RED = [
  [0.60,0.20,-0.20,-0.50,-0.62,-0.64,-0.63,-0.62,-0.61,-0.60,-0.59,-0.58,-0.57,-0.56,-0.55,-0.55,-0.55,-0.55,-0.56,-0.60,-0.75],
  [0.58,0.28,-0.02,-0.28,-0.47,-0.58,-0.61,-0.61,-0.60,-0.59,-0.58,-0.57,-0.56,-0.55,-0.55,-0.55,-0.55,-0.55,-0.57,-0.65,-0.85],
  [0.55,0.35,0.12,-0.07,-0.20,-0.30,-0.37,-0.44,-0.50,-0.54,-0.56,-0.56,-0.55,-0.55,-0.55,-0.55,-0.55,-0.56,-0.60,-0.75,-0.92],
  [0.50,0.38,0.22,0.08,-0.02,-0.09,-0.14,-0.18,-0.22,-0.30,-0.48,-0.54,-0.55,-0.55,-0.55,-0.55,-0.55,-0.57,-0.66,-0.84,-0.95],
];
const VC_BLUE = [
  [0.40,0.39,0.33,0.26,0.20,0.15,0.11,0.08,0.06,0.03,-0.08,-0.40,-0.54,-0.55,-0.55,-0.56,-0.60,-0.72,-0.86,-0.92,-0.97],
  [0.39,0.39,0.34,0.28,0.22,0.17,0.14,0.11,0.09,0.07,0.00,-0.30,-0.53,-0.55,-0.56,-0.57,-0.63,-0.78,-0.88,-0.93,-0.97],
  [0.38,0.38,0.34,0.29,0.24,0.20,0.17,0.14,0.12,0.10,0.05,-0.20,-0.50,-0.55,-0.56,-0.58,-0.66,-0.82,-0.90,-0.94,-0.97],
];

// ---------- panel 21: mu ----------
const MU_RED = [
  [0.55,0.46,0.36,0.31,0.28,0.26,0.25,0.24,0.23,0.21,0.17,0.08,-0.25,-0.50,-0.54,-0.55,-0.56,-0.58,-0.70,-0.88,-0.97],
  [0.50,0.43,0.35,0.29,0.25,0.22,0.20,0.18,0.16,0.13,0.08,-0.10,-0.42,-0.53,-0.55,-0.55,-0.56,-0.58,-0.72,-0.88,-0.97],
  [0.45,0.40,0.34,0.27,0.22,0.18,0.14,0.11,0.09,0.06,0.00,-0.28,-0.50,-0.54,-0.55,-0.55,-0.56,-0.59,-0.74,-0.89,-0.97],
];
const MU_BLUE = [
  [0.32,0.36,0.32,0.24,0.16,0.09,0.04,0.00,-0.04,-0.10,-0.30,-0.50,-0.55,-0.55,-0.55,-0.55,-0.56,-0.62,-0.80,-0.90,-0.97],
  [0.25,0.30,0.30,0.20,0.08,-0.03,-0.10,-0.15,-0.20,-0.28,-0.45,-0.55,-0.56,-0.56,-0.55,-0.55,-0.56,-0.62,-0.80,-0.90,-0.97],
  [0.18,0.25,0.30,0.22,0.05,-0.12,-0.25,-0.33,-0.39,-0.46,-0.54,-0.57,-0.58,-0.57,-0.56,-0.55,-0.56,-0.62,-0.80,-0.90,-0.97],
  [0.10,0.20,0.28,0.20,-0.02,-0.25,-0.40,-0.50,-0.56,-0.59,-0.60,-0.60,-0.59,-0.58,-0.57,-0.56,-0.56,-0.62,-0.80,-0.90,-0.97],
  [0.04,0.15,0.26,0.18,-0.08,-0.35,-0.52,-0.60,-0.62,-0.63,-0.62,-0.61,-0.60,-0.59,-0.57,-0.56,-0.56,-0.62,-0.80,-0.90,-0.97],
];

// ---------- panel 22: y (yield) ----------
const YLD_RED = [
  [0.38,0.39,0.33,0.24,0.16,0.09,0.04,0.00,-0.04,-0.10,-0.35,-0.54,-0.56,-0.56,-0.56,-0.56,-0.57,-0.63,-0.82,-0.91,-0.97],
  [0.39,0.40,0.34,0.25,0.17,0.10,0.05,0.01,-0.02,-0.07,-0.28,-0.52,-0.55,-0.55,-0.56,-0.56,-0.57,-0.63,-0.82,-0.91,-0.97],
];
const YLD_BLUE = [
  [0.42,0.42,0.37,0.30,0.23,0.17,0.13,0.10,0.08,0.05,-0.02,-0.30,-0.50,-0.53,-0.54,-0.54,-0.55,-0.62,-0.81,-0.91,-0.97],
  [0.43,0.44,0.40,0.34,0.28,0.22,0.18,0.15,0.13,0.10,0.05,-0.15,-0.45,-0.51,-0.52,-0.53,-0.54,-0.61,-0.80,-0.91,-0.97],
  [0.44,0.45,0.42,0.37,0.32,0.27,0.23,0.20,0.18,0.15,0.10,-0.02,-0.38,-0.49,-0.51,-0.52,-0.53,-0.60,-0.80,-0.90,-0.97],
  [0.45,0.46,0.44,0.40,0.36,0.31,0.28,0.25,0.22,0.20,0.15,0.06,-0.25,-0.47,-0.50,-0.51,-0.52,-0.60,-0.79,-0.90,-0.97],
];

// ---------- panel 23: T_gas ----------
const TGAS_RED = [
  [0.35,0.58,0.30,0.05,-0.12,-0.26,-0.40,-0.52,-0.60,-0.61,-0.60,-0.59,-0.58,-0.57,-0.56,-0.55,-0.55,-0.55,-0.55,-0.55,-0.55],
  [0.42,0.52,0.30,0.08,-0.08,-0.20,-0.33,-0.46,-0.56,-0.60,-0.60,-0.59,-0.58,-0.57,-0.56,-0.56,-0.55,-0.55,-0.55,-0.56,-0.57],
  [0.48,0.47,0.30,0.10,-0.04,-0.15,-0.26,-0.38,-0.50,-0.58,-0.59,-0.58,-0.57,-0.56,-0.56,-0.55,-0.55,-0.56,-0.62,-0.80,-0.97],
  [0.45,0.44,0.32,0.16,0.03,-0.08,-0.18,-0.28,-0.36,-0.45,-0.57,-0.58,-0.57,-0.56,-0.55,-0.55,-0.55,-0.55,-0.56,-0.58,-0.62],
  [0.38,0.38,0.30,0.20,0.10,0.02,-0.05,-0.10,-0.20,-0.40,-0.55,-0.56,-0.56,-0.55,-0.55,-0.55,-0.55,-0.60,-0.85,-0.90,-1.00],
];
const TGAS_BLUE = [
  [0.38,0.37,0.33,0.29,0.26,0.23,0.20,0.18,0.16,0.14,0.12,0.08,0.00,-0.30,-0.50,-0.55,-0.55,-0.56,-0.60,-0.80,-0.97],
  [0.35,0.35,0.32,0.28,0.24,0.21,0.18,0.15,0.13,0.10,0.06,0.00,-0.15,-0.35,-0.50,-0.60,-0.70,-0.78,-0.84,-0.90,-0.95],
  [0.32,0.33,0.30,0.26,0.22,0.18,0.14,0.11,0.08,0.05,0.00,-0.10,-0.25,-0.40,-0.50,-0.58,-0.65,-0.74,-0.82,-0.88,-0.95],
];

// ---------- panel 24: r_acc ----------
const RACC_RED = [
  [0.32,0.27,0.20,0.14,0.10,0.08,0.12,0.20,0.22,-0.55,-0.58,-0.60,-0.65,-0.75,-0.95,null,null,null,null,null,null],
  [0.22,0.18,0.13,0.10,0.08,0.06,0.03,0.00,-0.05,-0.12,-0.25,-0.50,-0.58,-0.60,-0.65,-0.75,-0.85,-0.90,-1.05,null,null],
  [0.42,0.36,0.27,0.18,0.12,0.09,0.07,0.05,0.02,-0.05,-0.30,-0.55,-0.57,-0.57,-0.57,-0.57,-0.57,-0.58,-0.70,-0.85,-0.95],
  [0.38,0.33,0.25,0.16,0.10,0.07,0.10,0.18,0.15,0.05,-0.05,-0.50,-0.57,-0.58,-0.58,-0.58,-0.58,-0.58,-0.58,-0.58,-0.58],
];
const RACC_BLUE = [
  [0.58,0.45,0.30,0.16,0.02,-0.12,-0.26,-0.40,-0.52,-0.56,-0.57,-0.57,-0.57,-0.57,-0.57,-0.57,-0.57,-0.57,-0.57,-0.57,-0.56],
  [0.52,0.42,0.30,0.18,0.05,-0.08,-0.20,-0.33,-0.47,-0.55,-0.56,-0.57,-0.57,-0.57,-0.57,-0.57,-0.57,-0.57,-0.57,-0.57,-0.57],
  [0.47,0.40,0.30,0.20,0.10,0.00,-0.10,-0.22,-0.38,-0.52,-0.56,-0.57,-0.57,-0.57,-0.57,-0.57,-0.57,-0.57,-0.58,-0.60,-0.62],
  [0.44,0.39,0.30,0.22,0.14,0.07,0.02,-0.02,-0.10,-0.30,-0.52,-0.56,-0.57,-0.57,-0.57,-0.57,-0.57,-0.58,-0.62,-0.75,-0.80],
];

// ---------- panel table (built from the arrays above) ----------
const PANELS = [
  { t: "α", s: "r", red: AR_RED, blue: AR_BLUE, black: FID, rt: "0–.3", bt: ".35–1" },
  { t: "β", s: "0", red: B0_RED, blue: B0_BLUE, orange: B0_ORANGE, black: FID, rt: "0 – .45", bt: ".55–.95", ot: "-.5 – 0" },
  { t: "ϵ", s: "ff", up: true, red: EFF_RED, blue: EFF_BLUE, black: FID, rt: ".0031–.0095", bt: ".0105–.031" },
  { t: "Z", s: "IGM", red: ZIGM_RED, blue: [...ZIGM_BLUE, FID], black: FID, rt: "1/100 – 1/10", bt: "1/10–1" },
  { t: "Q", s: "GI", red: QGI_RED, blue: QGI_BLUE, black: FID, rt: "1.3–1.9", bt: "2.1–3.0" },
  { t: "ϵ", s: "in", red: EIN_RED, blue: EIN_BLUE, black: FID, rt: ".003–.2", bt: ".31–.46" },
  { t: "f", s: "g,0", red: FG0_RED, blue: FG0_BLUE, black: FID, rt: "0.1–0.45", bt: ".55–.7" },
  { t: "n", s: "", red: N_RED, blue: N_BLUE, black: FID, rt: "1.0–1.9", bt: "2.1–3.0" },
  { t: "f", s: "H₂,min", red: FH2_RED, blue: FH2_BLUE, black: FID, rt: ".003–.029", bt: ".031–.3" },
  { t: "ξ", s: "", red: XI_RED, blue: XI_BLUE, black: FID, rt: "−0.3:−0.1", bt: "0.1–1.0" },
  { t: "α", s: "MRI", red: AMRI_RED, blue: AMRI_BLUE, black: AMRI_MAIN, rt: "0–.009", bt: ".011–0.5" },
  { t: "M", s: "h,0", red: MH0_RED, blue: MH0_BLUE, black: FID, rt: "1e10–1e12", bt: "1e12–1e13" },
  { t: "f", s: "cool", red: FCOOL_RED, blue: FCOOL_BLUE, black: FID, rt: ".20–.55", bt: ".65–1.0" },
  { t: "r", s: "b", red: RB_RED, blue: RB_BLUE, black: FID, rt: "0–2.5", bt: "3.5–10" },
  { t: "t", s: "SC", red: TSC_RED, blue: TSC_BLUE, black: FID, rt: "1–1.9", bt: "2.1–4" },
  { t: "κ", s: "Z", red: KZ_RED, blue: [...KZ_BLUE, FID], black: FID, rt: "0.1–1x fid.", bt: "1–10 x fid." },
  { t: "η", s: "", red: ETA_RED, blue: [...ETA_BLUE, FID], black: FID, rt: "0.5–1.5", bt: "1.5–4.5" },
  { t: "f", s: "R", red: FR_RED, blue: FR_BLUE, black: FID, rt: "0.4–0.5", bt: "0.6–0.7" },
  { t: "ϕ", s: "0", red: PHI0_RED, blue: PHI0_BLUE, black: FID, rt: ".5–.95", bt: "1.05–2" },
  { t: "v", s: "circ", red: VC_RED, blue: VC_BLUE, black: FID, rt: "160–215", bt: "225–250" },
  { t: "μ", s: "", red: MU_RED, blue: MU_BLUE, black: FID, rt: "0.1–0.4", bt: "0.6–1.5" },
  { t: "y", s: "", red: YLD_RED, blue: YLD_BLUE, black: FID, rt: ".05–.052", bt: ".056–.07" },
  { t: "T", s: "gas", red: TGAS_RED, blue: [...TGAS_BLUE, FID], black: FID, rt: "100–6900", bt: "7100–30000" },
  { t: "r", s: "acc", red: RACC_RED, blue: RACC_BLUE, black: FID, rt: "1–6.6 kpc", bt: "9.9–20.8 kpc", ldx: 52 },
];

// ---------- layout constants ----------
const COL_LEFT = [84, 224, 365, 505, 645, 786];
const COL_W = [140, 141, 140, 140, 141, 140];
const ROW_TOP = [0, 137, 274, 411];
const ROW_H = 137;
const PAD = 14;
const YAXIS_W = 62;
const XAXIS_H = 28;
const RED = "#ff0000";
const BLUE = "#0000ff";
const ORANGE = "#ff8c00";
const SANS = '"Liberation Sans", Arial, Helvetica, sans-serif';
const SERIF = '"Liberation Serif", "DejaVu Serif", "Times New Roman", serif';

const frameTicks = {
  id: "frameTicks",
  afterDatasetsDraw(chart: any) {
    const { ctx, chartArea: a, scales } = chart;
    const xs = scales.x;
    const ys = scales.y;
    ctx.save();
    ctx.strokeStyle = "#000";
    ctx.lineWidth = 1.3;
    ctx.beginPath();
    for (let k = 0; k <= 40; k++) {
      const px = Math.round(xs.getPixelForValue(k)) + 0.5;
      const len = k % 10 === 0 ? 8 : 4;
      ctx.moveTo(px, a.bottom);
      ctx.lineTo(px, a.bottom - len);
      ctx.moveTo(px, a.top);
      ctx.lineTo(px, a.top + len);
    }
    for (let k = -11; k <= 6; k++) {
      const py = Math.round(ys.getPixelForValue(k / 10)) + 0.5;
      const len = k % 5 === 0 ? 8 : 4;
      ctx.moveTo(a.left, py);
      ctx.lineTo(a.left + len, py);
      ctx.moveTo(a.right, py);
      ctx.lineTo(a.right - len, py);
    }
    ctx.stroke();
    ctx.lineWidth = 2;
    ctx.strokeRect(a.left, a.top, a.right - a.left, a.bottom - a.top);
    ctx.restore();
  },
};

function fmtY(v: number) {
  const s = Math.abs(v).toFixed(1);
  return v < 0 ? "−" + s : s;
}

function line(arr: any[], color: string, width: number) {
  return {
    data: R_KPC.map((x, i) => ({ x, y: arr[i] })),
    borderColor: color,
    borderWidth: width,
    pointRadius: 0,
    fill: false,
    spanGaps: false,
    cubicInterpolationMode: "monotone",
  };
}

function PanelChart({ idx }: { idx: number }) {
  const ref = useRef<HTMLCanvasElement | null>(null);
  const r = Math.floor(idx / 6);
  const c = idx % 6;
  const isLeft = c === 0;
  const isBottom = r === 3;
  const w = COL_W[c] + 2 * PAD + (isLeft ? YAXIS_W : 0);
  const h = ROW_H + 2 * PAD + (isBottom ? XAXIS_H : 0);
  const left = COL_LEFT[c] - PAD - (isLeft ? YAXIS_W : 0);
  const top = ROW_TOP[r] - PAD;

  useEffect(() => {
    const p: any = PANELS[idx];
    const datasets: any[] = [];
    p.blue.forEach((a: any) => datasets.push(line(a, BLUE, 1)));
    (p.orange || []).forEach((a: any) => datasets.push(line(a, ORANGE, 1)));
    p.red.forEach((a: any) => datasets.push(line(a, RED, 1)));
    datasets.push(line(p.black, "#000", 1.8));
    const zeroPad = (s: any) => {
      s.paddingLeft = 0;
      s.paddingRight = 0;
      s.paddingTop = 0;
      s.paddingBottom = 0;
    };
    const chart = new Chart(ref.current as HTMLCanvasElement, {
      type: "line",
      data: { datasets },
      plugins: [frameTicks],
      options: {
        animation: false,
        responsive: false,
        maintainAspectRatio: false,
        events: [],
        layout: { padding: PAD },
        plugins: { legend: { display: false }, tooltip: { enabled: false }, title: { display: false } },
        scales: {
          x: {
            type: "linear",
            min: 0,
            max: 40,
            grid: { display: false, drawTicks: false },
            border: { display: false },
            ticks: {
              display: isBottom,
              autoSkip: false,
              maxRotation: 0,
              padding: 5,
              color: "#000",
              font: { family: SANS, size: 15 },
            },
            afterBuildTicks: (s: any) => {
              s.ticks = X_TICKS.map((v) => ({ value: v }));
            },
            afterFit: (s: any) => {
              s.height = isBottom ? XAXIS_H : 0;
              zeroPad(s);
            },
          },
          y: {
            type: "linear",
            min: Y_MIN,
            max: Y_MAX,
            grid: { display: false, drawTicks: false },
            border: { display: false },
            ticks: {
              display: isLeft,
              autoSkip: false,
              padding: 4,
              color: "#000",
              font: { family: SANS, size: 15 },
              callback: (v: any) => fmtY(Number(v)),
            },
            afterBuildTicks: (s: any) => {
              s.ticks = Y_TICKS.map((v) => ({ value: v }));
            },
            afterFit: (s: any) => {
              s.width = isLeft ? YAXIS_W : 0;
              zeroPad(s);
            },
          },
        },
      } as any,
    } as any);
    return () => chart.destroy();
  }, [idx]);

  return (
    <canvas
      ref={ref}
      width={w}
      height={h}
      style={{ position: "absolute", left, top, width: w, height: h }}
    />
  );
}

function PanelText({ idx }: { idx: number }) {
  const p: any = PANELS[idx];
  const r = Math.floor(idx / 6);
  const c = idx % 6;
  const x0 = COL_LEFT[c];
  const y0 = ROW_TOP[r];
  const ldx = p.ldx || 58;
  const lab = (txt: string, color: string, dy: number) => (
    <div
      style={{
        position: "absolute",
        left: x0 + ldx,
        top: y0 + dy,
        transform: "translateY(-50%)",
        color,
        font: `11.5px ${SANS}`,
        lineHeight: "12px",
        whiteSpace: "nowrap",
      }}
    >
      {txt}
    </div>
  );
  return (
    <>
      <div
        style={{
          position: "absolute",
          left: x0 + 69,
          top: y0 + 15,
          transform: "translate(-50%, -50%)",
          color: "#3c3c3c",
          fontFamily: SERIF,
          fontStyle: "italic",
          fontSize: 17,
          lineHeight: "18px",
          whiteSpace: "nowrap",
        }}
      >
        {p.t}
        {p.s ? (
          <span
            style={{
              fontSize: 11,
              position: "relative",
              top: 4,
              fontStyle: p.up ? "normal" : "italic",
            }}
          >
            {p.s}
          </span>
        ) : null}
      </div>
      {lab(p.rt, RED, 28.5)}
      {lab(p.bt, BLUE, 39)}
      {p.ot ? lab(p.ot, ORANGE, 49.5) : null}
    </>
  );
}

export default function App() {
  return (
    <div
      style={{
        position: "absolute",
        left: 0,
        top: 0,
        width: 926,
        height: 613,
        background: "#fff",
        overflow: "hidden",
      }}
    >
      {PANELS.map((_, i) => (
        <PanelChart key={"c" + i} idx={i} />
      ))}
      {PANELS.map((_, i) => (
        <PanelText key={"t" + i} idx={i} />
      ))}
      <div
        style={{
          position: "absolute",
          left: 24,
          top: 272,
          transform: "translate(-50%, -50%) rotate(-90deg)",
          fontFamily: SERIF,
          fontSize: 30,
          lineHeight: "32px",
          whiteSpace: "nowrap",
          color: "#000",
        }}
      >
        [<i>Z</i>/<i>Z</i>
        <span style={{ fontSize: 18, position: "relative", top: 7 }}>⊙</span>]
      </div>
      <div
        style={{
          position: "absolute",
          left: 505,
          top: 594,
          transform: "translate(-50%, -50%)",
          fontFamily: SERIF,
          fontSize: 32,
          lineHeight: "34px",
          whiteSpace: "nowrap",
          color: "#000",
        }}
      >
        r (kpc)
      </div>
    </div>
  );
}
